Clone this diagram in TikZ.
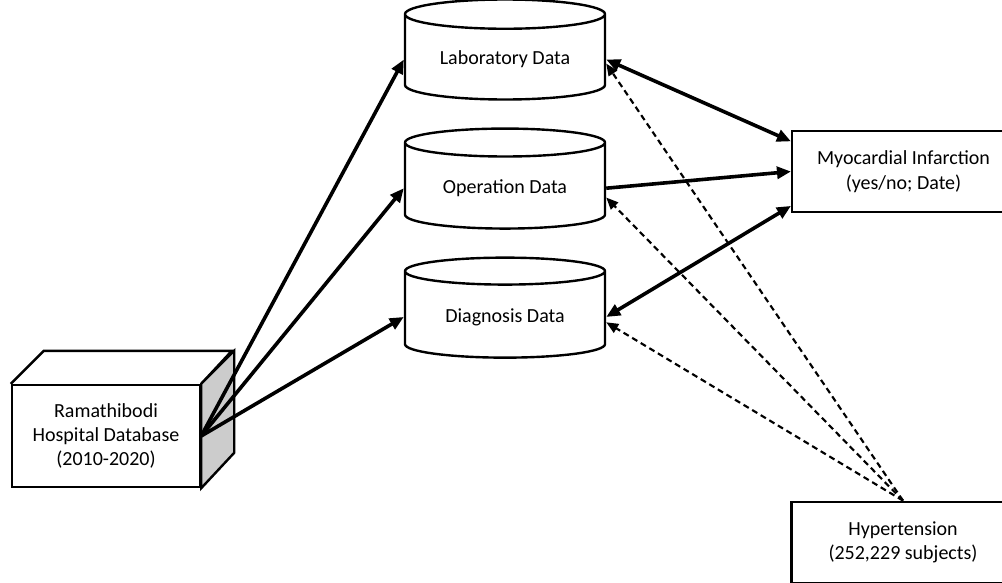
\documentclass[tikz,border=0pt]{standalone}
\usepackage{fontspec}
\setmainfont{Carlito}
\usetikzlibrary{positioning, arrows.meta, shapes.geometric}

\begin{document}
\begin{tikzpicture}[x=0.75pt, y=-0.75pt, thick,
    >={Triangle[length=10.5pt, width=9pt]},
    font=\fontsize{15}{18.3}\selectfont,
    node distance=20pt,
    box/.style={draw, line width=1.8pt, align=center,
        minimum width=167pt, minimum height=61pt},
    datacyl/.style={draw, line width=1.8pt, cylinder,
        shape border rotate=90, aspect=0.21,
        minimum width=150pt, minimum height=75pt},
    mainarrow/.style={line width=2.7pt},
    hyparrow/.style={line width=1.6pt, dash pattern=on 4.5pt off 3pt,
        -{Triangle[length=9pt, width=7.5pt]}}
]
    \useasboundingbox (0,0) rectangle (1002,582);

    % database block
    \node [draw, line width=1.8pt, align=center,
        minimum width=141pt,
        minimum height=76.5pt
    ] (hosp) at (106,436) {Ramathibodi\\Hospital Database\\(2010-2020)};
    \draw [line width=1.8pt] (hosp.north west) -- ++(33,-33) -- ++(188,0) -- (hosp.north east);
    \draw [line width=1.8pt, fill=gray!40] (hosp.north east) -- ++(33,-33)
        -- ++(0,102) -- (hosp.south east) -- cycle;

    % data tables
    \node [datacyl, anchor=shape center] (lab) at (505,49.5) {Laboratory Data};
    \node [datacyl, below=of lab] (op) {Operation Data};
    \node [datacyl, below=of op] (diag) {Diagnosis Data};

    % outcome and cohort
    \node [box] (myo) at (903.5,171.5) {Myocardial Infarction\\(yes/no; Date)};
    \node [box] (hyper) at (903,542.5) {Hypertension\\(252,229 subjects)};

    % arrows
    \draw [mainarrow, ->] (hosp.east) -- (lab.west);
    \draw [mainarrow, ->] (hosp.east) -- (op.west);
    \draw [mainarrow, ->] (hosp.east) -- (diag.west);
    \draw [mainarrow, <->] (lab.east) -- (myo.165);
    \draw [mainarrow, ->] (op.east) -- (myo.west);
    \draw [mainarrow, <->] (diag.east) -- (myo.197);

    % dashed links from the cohort
    \draw [hyparrow] (hyper.north) -- ([yshift=-3pt]lab.east);
    \draw [hyparrow] (hyper.north) -- ([yshift=-7pt]op.east);
    \draw [hyparrow] (hyper.north) -- ([yshift=-4pt]diag.east);
\end{tikzpicture}
\end{document}
